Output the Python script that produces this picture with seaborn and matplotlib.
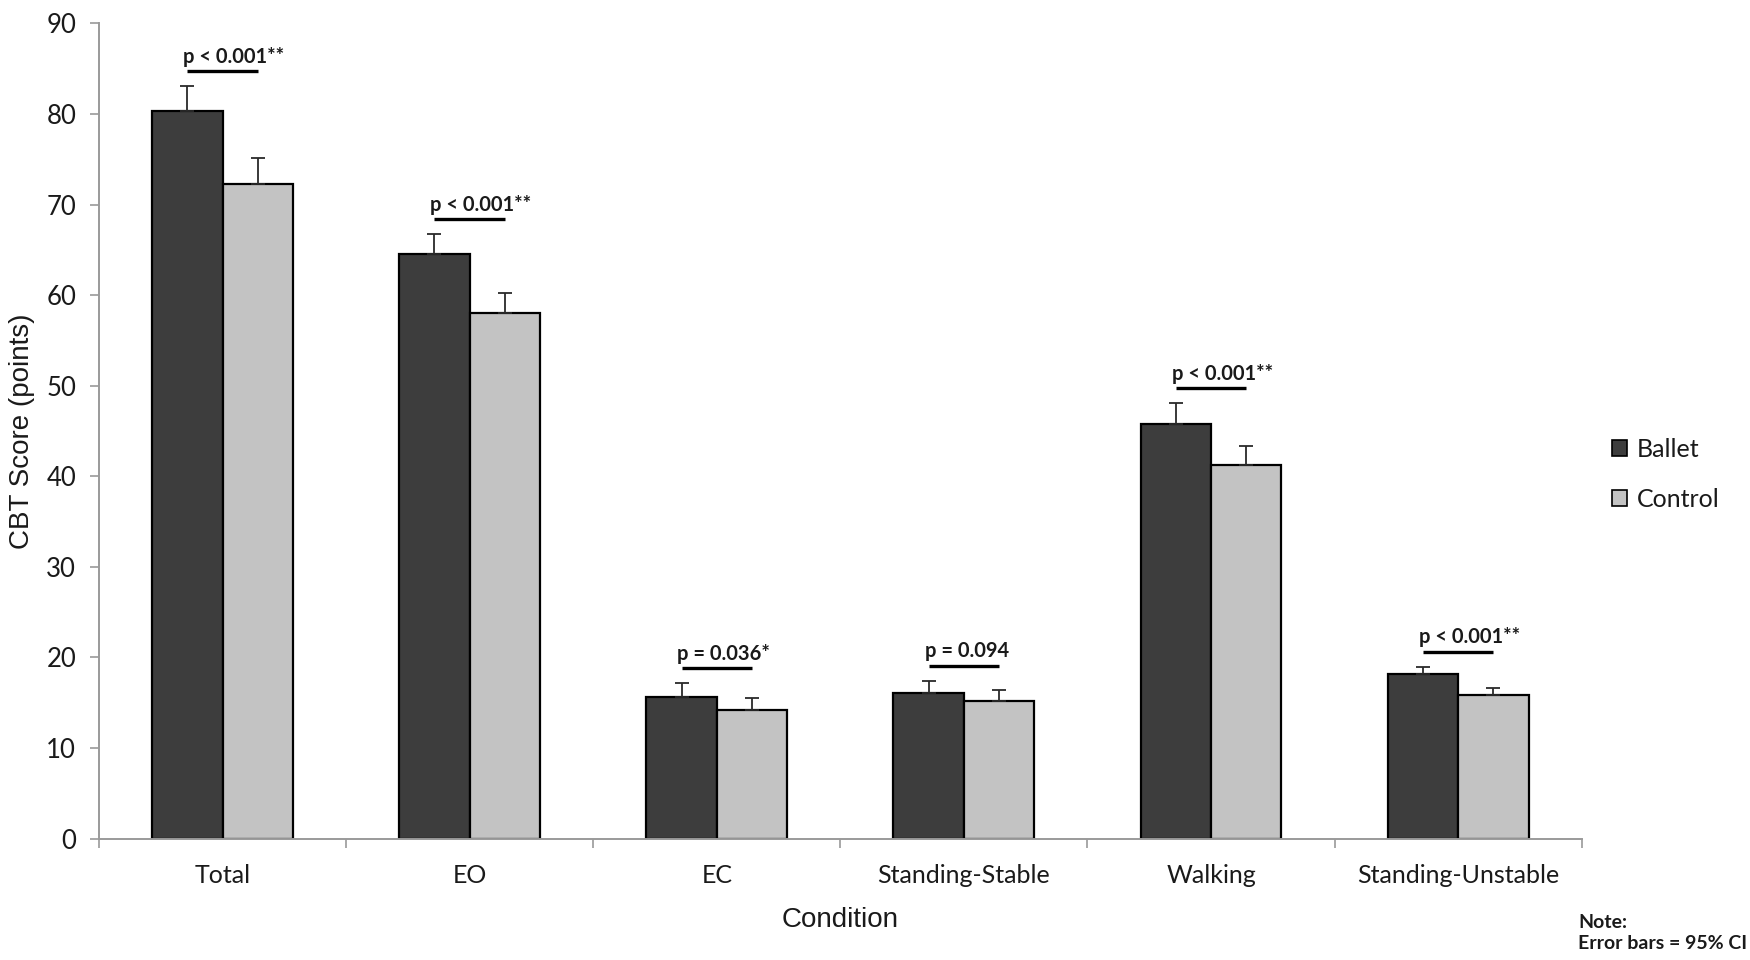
import numpy as np
import pandas as pd
import seaborn as sns
import matplotlib
matplotlib.use("Agg")
import matplotlib.pyplot as plt
from matplotlib.patches import Patch

# values
conditions = ["Total", "EO", "EC", "Standing-Stable", "Walking", "Standing-Unstable"]
ballet = [80.3, 64.5, 15.6, 16.1, 45.8, 18.2]
control = [72.3, 58.0, 14.2, 15.2, 41.2, 15.9]
ballet_ci = [2.8, 2.2, 1.55, 1.35, 2.3, 0.8]
control_ci = [2.8, 2.2, 1.3, 1.2, 2.1, 0.7]
p_labels = ["p < 0.001**", "p < 0.001**", "p = 0.036*", "p = 0.094", "p < 0.001**", "p < 0.001**"]
groups = ["Ballet", "Control"]

df = pd.DataFrame({
    "Condition": conditions * 2,
    "Score": ballet + control,
    "Group": [groups[0]] * len(conditions) + [groups[1]] * len(conditions),
})

sns.set_style("white")
tick_font = ["Lato", "DejaVu Sans"]
title_font = ["Liberation Sans", "DejaVu Sans"]
axis_grey = "#9a9a9a"
txt = "#1a1a1a"

fig = plt.figure(figsize=(17.5, 9.6), dpi=100)
ax = fig.add_axes([0.0566, 0.1264, 0.8472, 0.8493])

palette = {"Ballet": "#3d3d3d", "Control": "#c3c3c3"}
sns.barplot(data=df, x="Condition", y="Score", hue="Group", order=conditions,
            hue_order=groups, palette=palette, width=0.57, gap=0,
            edgecolor="black", linewidth=1.6, saturation=1, errorbar=None,
            legend=False, ax=ax)

# upward-only error bars (95% CI)
tops = []
for cont, ci in zip(ax.containers, [ballet_ci, control_ci]):
    xs = [b.get_x() + b.get_width() / 2 for b in cont]
    ys = [b.get_height() for b in cont]
    ax.errorbar(xs, ys, yerr=[np.zeros(len(ci)), ci], fmt="none",
                ecolor="#2a2a2a", elinewidth=1.3, capsize=5, capthick=1.3, zorder=3)
    tops.append((xs, [y + c for y, c in zip(ys, ci)]))

# significance lines + p-values
for i, lab in enumerate(p_labels):
    x0 = tops[0][0][i]
    x1 = tops[1][0][i]
    ly = max(tops[0][1][i], tops[1][1][i]) + 1.65
    ax.plot([x0, x1], [ly, ly], color="black", lw=2.4, solid_capstyle="butt")
    ax.annotate(lab, (x0, ly), xytext=(-3, 3), textcoords="offset points",
                ha="left", va="bottom", fontsize=14.5, fontweight="bold",
                family=tick_font, color=txt)

ax.set_xlim(-0.5, len(conditions) - 0.5)
ax.set_ylim(0, 90)
ax.set_yticks(np.arange(0, 91, 10))

for s in ["top", "right"]:
    ax.spines[s].set_visible(False)
for s in ["left", "bottom"]:
    ax.spines[s].set_color(axis_grey)
    ax.spines[s].set_linewidth(1.4)

ax.tick_params(axis="y", left=True, direction="out", length=6.5, width=1.2, color=axis_grey,
               pad=10, labelsize=18.5, labelcolor=txt)
ax.tick_params(axis="x", which="major", bottom=True, length=0, pad=18, labelsize=18, labelcolor=txt)
ax.set_xticks(np.arange(-0.5, len(conditions), 1.0), minor=True)
ax.tick_params(axis="x", which="minor", bottom=True, direction="out", length=6.5, width=1.2,
               color=axis_grey)
for t in ax.get_xticklabels() + ax.get_yticklabels():
    t.set_family(tick_font)

ax.set_xlabel("Condition", fontsize=20, family=title_font, color=txt, labelpad=15)
ax.set_ylabel("CBT Score (points)", fontsize=20, family=title_font, color=txt, labelpad=8)

handles = [Patch(facecolor=palette[g], edgecolor="black", linewidth=1.2) for g in groups]
leg = fig.legend(handles, groups, loc="center left", bbox_to_anchor=(0.921, 0.506),
                 frameon=False, fontsize=18, handlelength=0.6, handleheight=0.6,
                 handletextpad=0.4, labelspacing=1.07, borderpad=0, borderaxespad=0)
for t in leg.get_texts():
    t.set_family(tick_font)
    t.set_color(txt)

fig.text(0.9017, 0.028, "Note:\nError bars = 95% CI", ha="left", va="center",
         fontsize=14, fontweight="bold", family=tick_font, color=txt, linespacing=1.3)

fig.savefig("out.png", dpi=100)
